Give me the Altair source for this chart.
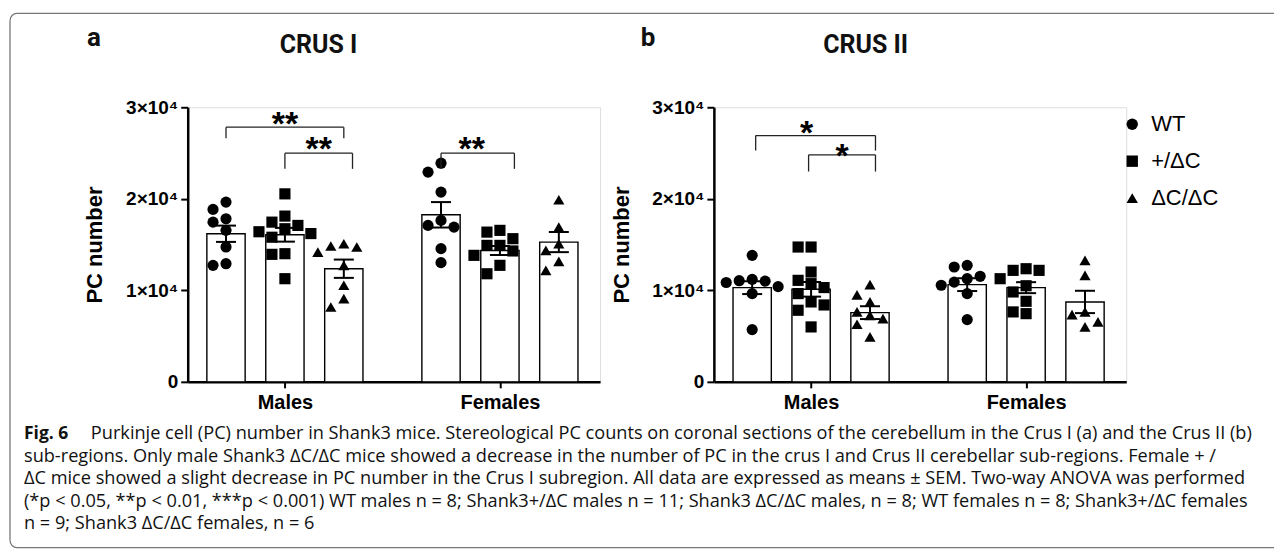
import altair as alt
import pandas as pd

# ---------------- data ----------------
groups = ["Males", "Females"]
genotypes = ["WT", "+/ΔC", "ΔC/ΔC"]

# Crus I individual animals
crus1_males_wt = [18840, 19640, 17450, 17820, 16550, 14730, 12730, 12910]
crus1_males_het = [20540, 18110, 17450, 17090, 16730, 16400, 16200, 15800, 14000, 13930, 11270]
crus1_males_ko = [14180, 15090, 14730, 14840, 12730, 10550, 9090, 8180]
crus1_females_wt = [23890, 22910, 20730, 17640, 17090, 16910, 14550, 13020]
crus1_females_het = [16360, 16550, 15640, 14910, 14910, 14300, 13820, 12730, 11810]
crus1_females_ko = [19900, 16910, 15090, 14370, 13170, 12180]

# Crus II individual animals
crus2_males_wt = [13820, 11200, 11050, 11000, 10850, 10400, 9640, 5710]
crus2_males_het = [14730, 14730, 12000, 11090, 10730, 10300, 9640, 8730, 8400, 7820, 6000]
crus2_males_ko = [10620, 9500, 8730, 7640, 7270, 6900, 6290, 4910]
crus2_females_wt = [12730, 12550, 11530, 11270, 10900, 10550, 9640, 6800]
crus2_females_het = [12180, 12360, 12180, 11270, 10500, 9820, 8800, 7450, 7640]
crus2_females_ko = [13270, 11640, 7640, 7350, 6550, 6000]

# bar heights (mean) and SEM, order: M WT, M +/ΔC, M ΔC/ΔC, F WT, F +/ΔC, F ΔC/ΔC
crus1_means = [16180, 16070, 12360, 18250, 14350, 15270]
crus1_sems = [890, 750, 1000, 1390, 490, 1100]
crus2_means = [10290, 10110, 7560, 10620, 10290, 8730]
crus2_sems = [700, 800, 700, 700, 600, 1220]

# significance annotations: (from group, from genotype, to group, to genotype, bracket level, leg end, label, label level)
crus1_sig = [
    ("Males", "WT", "Males", "ΔC/ΔC", 27820, 26620, "**", 29130),
    ("Males", "+/ΔC", "Males", "ΔC/ΔC", 24980, 23270, "**", 26400),
    ("Females", "WT", "Females", "+/ΔC", 24980, 23270, "**", 26400),
]
crus2_sig = [
    ("Males", "WT", "Males", "ΔC/ΔC", 26910, 25270, "*", 28180),
    ("Males", "+/ΔC", "Males", "ΔC/ΔC", 24800, 22980, "*", 25640),
]

caption_lines = [
    "Purkinje cell (PC) number in Shank3 mice. Stereological PC counts on coronal sections of the cerebellum in the Crus I (a) and the Crus II (b)",
    "sub-regions. Only male Shank3 ΔC/ΔC mice showed a decrease in the number of PC in the crus I and Crus II cerebellar sub-regions. Female + /",
    "ΔC mice showed a slight decrease in PC number in the Crus I subregion. All data are expressed as means ± SEM. Two-way ANOVA was performed",
    "(*p < 0.05, **p < 0.01, ***p < 0.001) WT males n = 8; Shank3+/ΔC males n = 11; Shank3 ΔC/ΔC males, n = 8; WT females n = 8; Shank3+/ΔC females",
    "n = 9; Shank3 ΔC/ΔC females, n = 6",
]

# ---------------- layout helpers ----------------
W, H = 413, 275
XMAX = 7.0
PXU = W / XMAX
YMAX = 30000
BAR_HALF = 0.325
CAP_HALF = 0.17
SANS = "Liberation Sans"
CAPFONT = "Open Sans"
CAPSIZE = 18.2

# small pixel nudges of the bracket ends / labels as drawn in the figure
crus1_nudge = [(0, 0, 0), (0, 8.7, 0), (0, 14.5, -6)]
crus2_nudge = [(3.5, 5.5, -9), (-2.5, 5.5, 0)]


def slot(group, geno):
    return 1.65 + 3.65 * groups.index(group) + (genotypes.index(geno) - 1)


def swarm(values, center, d=11.5, step=13.0):
    pyv = H / YMAX
    placed = []
    xs = [0.0] * len(values)
    order = sorted(range(len(values)), key=lambda i: -values[i])
    for i in order:
        yp = values[i] * pyv
        xp = 0.0
        for k in [0, -1, 1, -2, 2, -3, 3]:
            xp = k * step
            if all((xp - a) ** 2 + (yp - b) ** 2 >= d * d for a, b in placed):
                break
        placed.append((xp, yp))
        xs[i] = center + xp / PXU
    return xs


xscale = alt.Scale(domain=[0, XMAX], nice=False, zero=False)
yscale = alt.Scale(domain=[0, YMAX], nice=False)
xaxis = alt.Axis(
    title=None, values=[1.65, 5.3], grid=False,
    labelExpr="datum.value < 3 ? 'Males' : 'Females'",
    labelFont=SANS, labelFontWeight="bold", labelFontSize=20, labelColor="black",
    labelPadding=5, tickSize=6, tickWidth=2, tickColor="black",
    domainColor="black", domainWidth=2.5,
)
yaxis = alt.Axis(
    title="PC number", values=[0, 10000, 20000, 30000], grid=False,
    labelExpr="datum.value == 0 ? '0' : format(datum.value / 10000, 'd') + '×10⁴'",
    labelFont=SANS, labelFontWeight="bold", labelFontSize=19, labelColor="black",
    labelPadding=3, tickSize=7, tickWidth=2, tickColor="black",
    domainColor="black", domainWidth=2.5,
    titleFont=SANS, titleFontWeight="bold", titleFontSize=22, titleColor="black",
    titleX=-93, titleY=H / 2, titleAngle=270, titleAlign="center", titleBaseline="middle",
)


def X(f):
    return alt.X(f, type="quantitative", scale=xscale, axis=xaxis)


def Y(f):
    return alt.Y(f, type="quantitative", scale=yscale, axis=yaxis)


def text_layer(txt, x, y, size, weight="normal", font=SANS, align="center", baseline="middle"):
    return alt.Chart(pd.DataFrame({"t": [txt]})).mark_text(
        font=font, fontSize=size, fontWeight=weight, color="#111111", align=align, baseline=baseline
    ).encode(text="t:N", x=alt.value(x), y=alt.value(y))


def panel(point_lists, means, sems, sig, nudges, letter, title, letter_x, title_x, legend, extra):
    rows = []
    summ = []
    for gi, g in enumerate(groups):
        for ki, k in enumerate(genotypes):
            idx = gi * 3 + ki
            c = slot(g, k)
            vals = point_lists[idx]
            for v, xp in zip(vals, swarm(vals, c)):
                rows.append({"group": g, "geno": k, "value": v, "xpos": xp})
            m, s = means[idx], sems[idx]
            summ.append({"group": g, "geno": k, "mean": m, "lo": m - s, "hi": m + s, "zero": 0,
                         "c": c, "x0": c - BAR_HALF, "x1": c + BAR_HALF,
                         "k0": c - CAP_HALF, "k1": c + CAP_HALF})
    pts = pd.DataFrame(rows)
    sm = pd.DataFrame(summ)
    br = []
    for (g0, k0, g1, k1, lvl, leg, lab, lablvl), (n0, n1, nl) in zip(sig, nudges):
        a = slot(g0, k0) + n0 / PXU
        b = slot(g1, k1) + n1 / PXU
        br.append({"a": a, "b": b, "lvl": lvl, "leg": leg, "lab": lab, "ly": lablvl,
                   "lx": (a + b) / 2 + nl / PXU})
    brd = pd.DataFrame(br)

    base_s = alt.Chart(sm)
    bars = base_s.mark_bar(fill="white", stroke="black", strokeWidth=1.4).encode(
        x=X("x0"), x2="x1", y=Y("mean"), y2="zero")
    shape = alt.Shape("geno:N", scale=alt.Scale(domain=genotypes, range=["circle", "square", "triangle-up"]),
                      legend=legend)
    points = alt.Chart(pts).mark_point(filled=True, size=125, color="black", opacity=1).encode(
        x=X("xpos"), y=Y("value"), shape=shape)
    err = base_s.mark_rule(color="black", strokeWidth=2).encode(x=X("c"), y=Y("lo"), y2="hi")
    cap_hi = base_s.mark_rule(color="black", strokeWidth=2).encode(x=X("k0"), x2="k1", y=Y("hi"))
    cap_lo = base_s.mark_rule(color="black", strokeWidth=2).encode(x=X("k0"), x2="k1", y=Y("lo"))
    bb = alt.Chart(brd)
    bh = bb.mark_rule(color="#222", strokeWidth=1.3).encode(x=X("a"), x2="b", y=Y("lvl"))
    bl = bb.mark_rule(color="#222", strokeWidth=1.3).encode(x=X("a"), y=Y("lvl"), y2="leg")
    brr = bb.mark_rule(color="#222", strokeWidth=1.3).encode(x=X("b"), y=Y("lvl"), y2="leg")
    stars = bb.mark_text(font=SANS, fontSize=34, fontWeight="bold", color="black",
                         baseline="alphabetic", dy=20).encode(x=X("lx"), y=Y("ly"), text="lab:N")
    layers = [bars, points, err, cap_hi, cap_lo, bh, bl, brr, stars,
              text_layer(letter, letter_x, -69, 26, "bold", "Roboto"),
              text_layer(title, title_x, -62, 25, "bold", "Roboto")]
    layers += extra
    return alt.layer(*layers).properties(width=W, height=H)


# frame and caption (drawn in panel a's coordinates; panel a origin is at page (186,105))
FR = "#777777"
frame = [
    alt.Chart(pd.DataFrame({"k": [0]})).mark_rule(color=FR, strokeWidth=1.3).encode(
        x=alt.value(-171), x2=alt.value(1088), y=alt.value(-94)),
    alt.Chart(pd.DataFrame({"k": [0]})).mark_rule(color=FR, strokeWidth=1.3).encode(
        x=alt.value(-178), y=alt.value(-87), y2=alt.value(434)),
    alt.Chart(pd.DataFrame({"k": [0]})).mark_rule(color=FR, strokeWidth=1.3).encode(
        x=alt.value(-171), x2=alt.value(1088), y=alt.value(441)),
    alt.Chart(pd.DataFrame({"k": [0]})).mark_arc(
        radius=7.6, radius2=6.3, theta=4.7124, theta2=6.2832, color=FR).encode(
        x=alt.value(-171), y=alt.value(-87)),
    alt.Chart(pd.DataFrame({"k": [0]})).mark_arc(
        radius=7.6, radius2=6.3, theta=3.1416, theta2=4.7124, color=FR).encode(
        x=alt.value(-171), y=alt.value(434)),
]
cap_y = [327, 350, 372, 395, 417]
caption = [text_layer("Fig. 6", -164, cap_y[0], 17.5, "bold", CAPFONT, "left")]
caption.append(text_layer(caption_lines[0], -97, cap_y[0], CAPSIZE, "normal", CAPFONT, "left"))
for line, yy in zip(caption_lines[1:], cap_y[1:]):
    caption.append(text_layer(line, -164, yy, CAPSIZE, "normal", CAPFONT, "left"))

legend_b = alt.Legend(
    title=None, orient="none", legendX=408, legendY=6, padding=0,
    labelFont=SANS, labelFontSize=22, labelColor="black", labelOffset=8,
    symbolSize=130, symbolFillColor="black", symbolStrokeWidth=0, rowPadding=15,
)

panel_a = panel(
    [crus1_males_wt, crus1_males_het, crus1_males_ko, crus1_females_wt, crus1_females_het, crus1_females_ko],
    crus1_means, crus1_sems, crus1_sig, crus1_nudge, "a", "CRUS I", -94, 131, None, frame + caption)
panel_b = panel(
    [crus2_males_wt, crus2_males_het, crus2_males_ko, crus2_females_wt, crus2_females_het, crus2_females_ko],
    crus2_means, crus2_sems, crus2_sig, crus2_nudge, "b", "CRUS II", -66, 152, legend_b, [])

chart = alt.hconcat(panel_a, panel_b, spacing=114, bounds="flush").resolve_scale(
    shape="independent").resolve_legend(shape="independent").properties(
    padding={"left": 0, "top": 3, "right": 0, "bottom": 0}
).configure_view(strokeWidth=0).configure(background="white")

chart.save("out.html", embed_options={"renderer": "svg", "actions": False})
